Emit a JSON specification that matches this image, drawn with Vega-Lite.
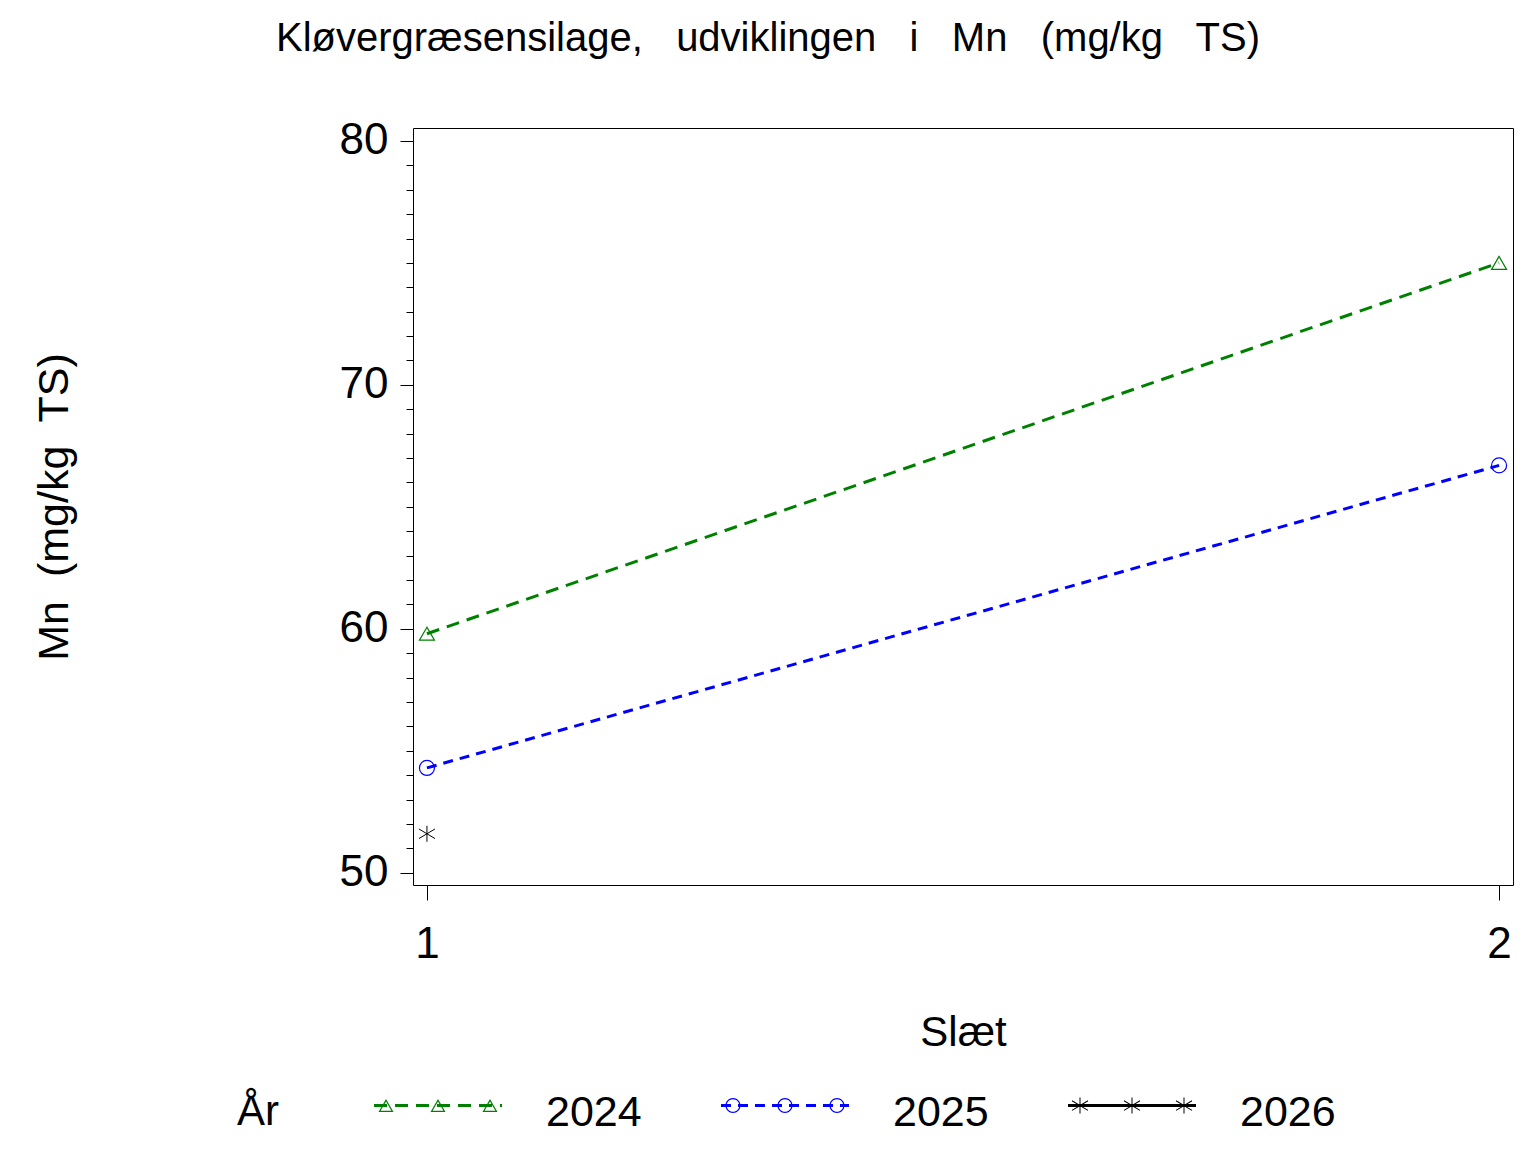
{
  "$schema": "https://vega.github.io/schema/vega-lite/v6.json",
  "width": 1100,
  "height": 757,
  "autosize": {"type": "none"},
  "padding": {"left": 413, "top": 128, "right": 23, "bottom": 267},
  "background": "white",
  "config": {
    "view": {"stroke": "black", "strokeWidth": 1},
    "font": "Liberation Sans"
  },
  "title": {
    "text": "Kløvergræsensilage,\u00a0\u00a0 udviklingen\u00a0\u00a0 i\u00a0\u00a0 Mn\u00a0\u00a0 (mg/kg\u00a0\u00a0 TS)",
    "fontSize": 40,
    "fontWeight": "normal",
    "color": "black",
    "anchor": "middle",
    "frame": "group",
    "baseline": "alphabetic",
    "dx": -195,
    "offset": 28
  },
  "data": {
    "values": [
      {"year": "2024", "slaet": 1, "mn": 59.8},
      {"year": "2024", "slaet": 2, "mn": 75.0},
      {"year": "2025", "slaet": 1, "mn": 54.3},
      {"year": "2025", "slaet": 2, "mn": 66.7},
      {"year": "2026", "slaet": 1, "mn": 51.6}
    ]
  },
  "encoding": {
    "x": {
      "field": "slaet",
      "type": "quantitative",
      "scale": {"domain": [0.987, 2.013], "nice": false, "zero": false},
      "axis": {
        "values": [1, 2],
        "format": "d",
        "grid": false,
        "domain": false,
        "tickSize": 15,
        "tickColor": "black",
        "labelFontSize": 44,
        "labelColor": "black",
        "labelPadding": 22,
        "title": "Slæt",
        "titleFontSize": 42,
        "titleFontWeight": "normal",
        "titleColor": "black",
        "titleY": 160,
        "titleBaseline": "alphabetic"
      }
    },
    "y": {
      "field": "mn",
      "type": "quantitative",
      "scale": {"domain": [49.5, 80.53], "nice": false, "zero": false},
      "axis": {
        "values": [50, 51, 52, 53, 54, 55, 56, 57, 58, 59, 60, 61, 62, 63, 64, 65, 66, 67, 68, 69, 70, 71, 72, 73, 74, 75, 76, 77, 78, 79, 80],
        "labelExpr": "datum.value % 10 === 0 ? datum.label : ''",
        "grid": false,
        "domain": false,
        "tickColor": "black",
        "tickSize": {"condition": {"test": "datum.value % 10 === 0", "value": 13}, "value": 7},
        "labelFontSize": 44,
        "labelColor": "black",
        "labelPadding": 12,
        "title": "Mn\u00a0 (mg/kg\u00a0 TS)",
        "titleFontSize": 43,
        "titleFontWeight": "normal",
        "titleColor": "black",
        "titleAngle": 270,
        "titleX": -346,
        "titleY": 378.5,
        "titleAlign": "center",
        "titleBaseline": "alphabetic"
      }
    }
  },
  "layer": [
    {
      "mark": {"type": "line", "strokeWidth": 3},
      "encoding": {
        "color": {
          "field": "year",
          "type": "nominal",
          "scale": {"domain": ["2024", "2025", "2026"], "range": ["#008000", "#0000ff", "#000000"]},
          "legend": null
        },
        "strokeDash": {
          "field": "year",
          "type": "nominal",
          "scale": {"domain": ["2024", "2025", "2026"], "range": [[13, 8], [10, 7], [1, 0]]},
          "legend": null
        }
      }
    },
    {
      "transform": [{"filter": "datum.year === '2024'"}],
      "mark": {"type": "point", "shape": "triangle-up", "size": 225, "filled": false, "strokeWidth": 1.2, "color": "#008000", "opacity": 1},
      "encoding": {}
    },
    {
      "transform": [{"filter": "datum.year === '2025'"}],
      "mark": {"type": "point", "shape": "circle", "size": 225, "filled": false, "strokeWidth": 1.2, "color": "#0000ff", "opacity": 1},
      "encoding": {}
    },
    {
      "transform": [{"filter": "datum.year === '2026'"}],
      "mark": {"type": "point", "shape": "M0,-1L0,1M-1,-0.6L1,0.6M-1,0.6L1,-0.6", "size": 256, "filled": false, "strokeWidth": 1, "color": "#000000", "opacity": 1},
      "encoding": {}
    },
    {
      "mark": {"type": "point", "filled": true, "size": 16384, "opacity": 0},
      "encoding": {
        "fill": {
          "field": "year",
          "type": "nominal",
          "scale": {"range": ["#008000", "#0000ff", "#000000"]},
          "legend": {
            "title": "År",
            "orient": "none",
            "legendX": -176,
            "legendY": 921,
            "direction": "horizontal",
            "titleOrient": "left",
            "titleFontSize": 42,
            "titleFontWeight": "normal",
            "titleColor": "black",
            "titlePadding": 95,
            "titleAnchor": "middle",
            "titleBaseline": "top",
            "labelFontSize": 43,
            "labelColor": "black",
            "labelOffset": 44,
            "columnPadding": 79,
            "symbolSize": 16384,
            "symbolStrokeWidth": 0,
            "symbolOpacity": 1,
            "padding": 0
          }
        },
        "shape": {
          "field": "year",
          "type": "nominal",
          "scale": {
            "range": [
              "M-1,-0.1404L-0.797,-0.1404L-0.797,-0.0936L-1,-0.0936Z M-0.672,-0.1404L-0.469,-0.1404L-0.469,-0.0936L-0.672,-0.0936Z M-0.344,-0.1404L-0.141,-0.1404L-0.141,-0.0936L-0.344,-0.0936Z M-0.016,-0.1404L0.188,-0.1404L0.188,-0.0936L-0.016,-0.0936Z M0.313,-0.1404L0.516,-0.1404L0.516,-0.0936L0.313,-0.0936Z M0.641,-0.1404L0.844,-0.1404L0.844,-0.0936L0.641,-0.0936Z M0.969,-0.1404L1,-0.1404L1,-0.0936L0.969,-0.0936Z M-0.8125,-0.2186L-0.6953,-0.0154L-0.9297,-0.0154Z M-0.8125,-0.1811L-0.8972,-0.0342L-0.7278,-0.0342Z M0,-0.2186L0.1172,-0.0154L-0.1172,-0.0154Z M0,-0.1811L-0.0847,-0.0342L0.0847,-0.0342Z M0.8125,-0.2186L0.9297,-0.0154L0.6953,-0.0154Z M0.8125,-0.1811L0.7278,-0.0342L0.8972,-0.0342Z",
              "M-1,-0.1404L-0.844,-0.1404L-0.844,-0.0936L-1,-0.0936Z M-0.734,-0.1404L-0.578,-0.1404L-0.578,-0.0936L-0.734,-0.0936Z M-0.469,-0.1404L-0.313,-0.1404L-0.313,-0.0936L-0.469,-0.0936Z M-0.203,-0.1404L-0.047,-0.1404L-0.047,-0.0936L-0.203,-0.0936Z M0.0625,-0.1404L0.219,-0.1404L0.219,-0.0936L0.0625,-0.0936Z M0.328,-0.1404L0.484,-0.1404L0.484,-0.0936L0.328,-0.0936Z M0.594,-0.1404L0.75,-0.1404L0.75,-0.0936L0.594,-0.0936Z M0.859,-0.1404L1,-0.1404L1,-0.0936L0.859,-0.0936Z M-0.6953,-0.117A0.1172,0.1172 0 1,1 -0.9297,-0.117A0.1172,0.1172 0 1,1 -0.6953,-0.117Z M-0.7141,-0.117A0.0984,0.0984 0 1,0 -0.9109,-0.117A0.0984,0.0984 0 1,0 -0.7141,-0.117Z M0.1172,-0.117A0.1172,0.1172 0 1,1 -0.1172,-0.117A0.1172,0.1172 0 1,1 0.1172,-0.117Z M0.0984,-0.117A0.0984,0.0984 0 1,0 -0.0984,-0.117A0.0984,0.0984 0 1,0 0.0984,-0.117Z M0.9297,-0.117A0.1172,0.1172 0 1,1 0.6953,-0.117A0.1172,0.1172 0 1,1 0.9297,-0.117Z M0.9109,-0.117A0.0984,0.0984 0 1,0 0.7141,-0.117A0.0984,0.0984 0 1,0 0.9109,-0.117Z",
              "M-1,-0.1404L1,-0.1404L1,-0.0936L-1,-0.0936Z M-0.8203,-0.242L-0.8047,-0.242L-0.8047,0.008L-0.8203,0.008Z M-0.9415,-0.1853L-0.9335,-0.1987L-0.6835,-0.0487L-0.6915,-0.0353Z M-0.9415,-0.0487L-0.6915,-0.1987L-0.6835,-0.1853L-0.9335,-0.0353Z M-0.0078,-0.242L0.0078,-0.242L0.0078,0.008L-0.0078,0.008Z M-0.129,-0.1853L-0.121,-0.1987L0.129,-0.0487L0.121,-0.0353Z M-0.129,-0.0487L0.121,-0.1987L0.129,-0.1853L-0.121,-0.0353Z M0.8047,-0.242L0.8203,-0.242L0.8203,0.008L0.8047,0.008Z M0.6835,-0.1853L0.6915,-0.1987L0.9415,-0.0487L0.9335,-0.0353Z M0.6835,-0.0487L0.9335,-0.1987L0.9415,-0.1853L0.6915,-0.0353Z"
            ]
          },
          "legend": {
            "title": "År",
            "orient": "none",
            "legendX": -176,
            "legendY": 921,
            "direction": "horizontal",
            "titleOrient": "left",
            "titleFontSize": 42,
            "titleFontWeight": "normal",
            "titleColor": "black",
            "titlePadding": 95,
            "titleAnchor": "middle",
            "titleBaseline": "top",
            "labelFontSize": 43,
            "labelColor": "black",
            "labelOffset": 44,
            "columnPadding": 79,
            "symbolSize": 16384,
            "symbolStrokeWidth": 0,
            "symbolOpacity": 1,
            "padding": 0
          }
        }
      }
    }
  ]
}
